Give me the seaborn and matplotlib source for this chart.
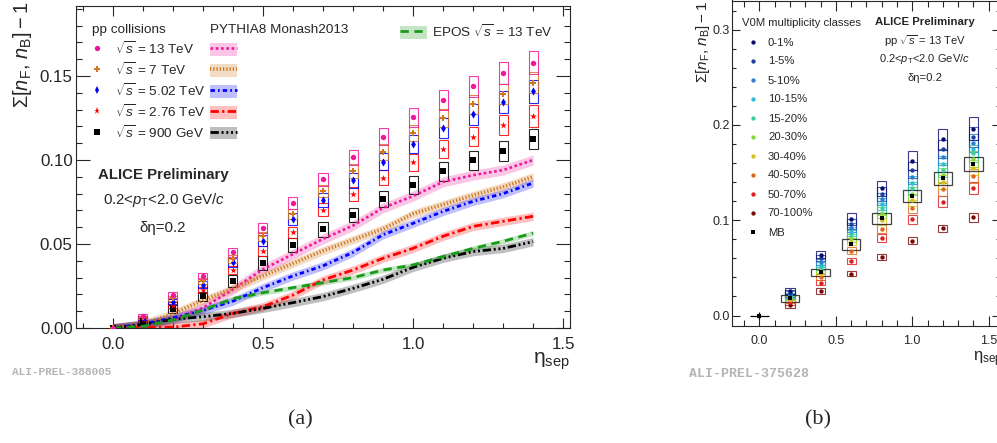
import numpy as np
import pandas as pd
import seaborn as sns
import matplotlib.pyplot as plt
from matplotlib.lines import Line2D
from matplotlib.patches import Patch
from matplotlib.ticker import MultipleLocator, FormatStrFormatter

# ---------- panel (a): pp collisions at several energies ----------
ETA_A = [0.0, 0.1, 0.2, 0.3, 0.4, 0.5, 0.6, 0.7, 0.8, 0.9, 1.0, 1.1, 1.2, 1.3, 1.4]
ENERGY_LABELS = ["13 TeV", "7 TeV", "5.02 TeV", "2.76 TeV", "900 GeV"]

DATA_13 = [0, 0.0071, 0.0196, 0.031, 0.045, 0.0595, 0.0745, 0.0885, 0.1016, 0.114, 0.1254, 0.1357, 0.144, 0.1516, 0.158]
DATA_7 = [0, 0.0063, 0.0177, 0.0278, 0.041, 0.0546, 0.068, 0.0813, 0.0933, 0.1048, 0.116, 0.125, 0.1331, 0.1395, 0.146]
DATA_5 = [0, 0.0058, 0.0157, 0.0258, 0.039, 0.052, 0.065, 0.0762, 0.0879, 0.099, 0.1095, 0.119, 0.1272, 0.1345, 0.1409]
DATA_276 = [0, 0.0052, 0.0137, 0.0226, 0.0343, 0.046, 0.057, 0.0705, 0.080, 0.0895, 0.0986, 0.1066, 0.114, 0.121, 0.1262]
DATA_09 = [0, 0.0044, 0.0113, 0.019, 0.028, 0.0385, 0.0494, 0.0587, 0.0673, 0.0766, 0.0851, 0.0933, 0.0998, 0.1055, 0.1123]

SYS_13 = [0, 0.0012, 0.0016, 0.002, 0.0025, 0.003, 0.0035, 0.004, 0.0045, 0.005, 0.0055, 0.0058, 0.0062, 0.0065, 0.0068]
SYS_7 = [0, 0.0011, 0.0015, 0.0019, 0.0023, 0.0027, 0.0031, 0.0036, 0.0041, 0.0045, 0.0049, 0.0053, 0.0057, 0.006, 0.0062]
SYS_5 = [0, 0.0012, 0.0016, 0.0021, 0.0026, 0.0031, 0.0036, 0.0041, 0.0046, 0.0051, 0.0056, 0.006, 0.0064, 0.0067, 0.007]
SYS_276 = [0, 0.0011, 0.0015, 0.0019, 0.0024, 0.0029, 0.0033, 0.0037, 0.0041, 0.0045, 0.0049, 0.0053, 0.0057, 0.006, 0.0063]
SYS_09 = [0, 0.0014, 0.0022, 0.0027, 0.0035, 0.0042, 0.0042, 0.0044, 0.0042, 0.0048, 0.0052, 0.0055, 0.0058, 0.006, 0.006]

PY_13 = [0, 0.001, 0.005, 0.012, 0.023, 0.035, 0.044, 0.053, 0.061, 0.0715, 0.0785, 0.087, 0.091, 0.094, 0.100]
PY_7 = [0, 0.0025, 0.0085, 0.0165, 0.0235, 0.031, 0.0385, 0.046, 0.0525, 0.059, 0.068, 0.0735, 0.079, 0.084, 0.090]
PY_5 = [0, 0.0024, 0.006, 0.0105, 0.016, 0.024, 0.031, 0.037, 0.045, 0.0555, 0.0623, 0.0694, 0.0754, 0.080, 0.0863]
PY_276 = [0, 0.0002, 0.0005, 0.0025, 0.0087, 0.0127, 0.0196, 0.0286, 0.0345, 0.0415, 0.0474, 0.0546, 0.0605, 0.0635, 0.0665]
PY_09 = [0, 0.002, 0.0052, 0.0067, 0.0087, 0.0117, 0.0151, 0.0187, 0.0236, 0.029, 0.0361, 0.0415, 0.0455, 0.0474, 0.0514]
PY_BAND = [0.003, 0.0025, 0.0025, 0.0025, 0.0025]
EPOS_13 = [0, 0.001, 0.0048, 0.0107, 0.0175, 0.021, 0.024, 0.027, 0.030, 0.0345, 0.0375, 0.0425, 0.0474, 0.0516, 0.0565]
EPOS_BAND = 0.0015

COLORS_A = ["#f0189a", "#d2771e", "#0000ff", "#ff0000", "#000000"]
MARKERS_A = ["o", "P", "d", "*", "s"]
MSIZE_A = [15, 19, 17, 26, 15]
STYLES_A = [(0, (1, 1)), (0, (0.35, 0.55)), (0, (1.6, 1.1, 0.6, 1.1)),
            (0, (3, 1.2, 0.8, 1.2)), (0, (3, 1, 0.7, 1, 0.7, 1, 0.7, 1))]
LW_A = [1.9, 2.6, 2.0, 2.0, 2.0]

# ---------- panel (b): 13 TeV multiplicity classes ----------
ETA_B = [0.2, 0.4, 0.6, 0.8, 1.0, 1.2, 1.4]
CLASSES = ["0-1%", "1-5%", "5-10%", "10-15%", "15-20%", "20-30%", "30-40%", "40-50%", "50-70%", "70-100%"]
CLASS_VALUES = [
    [0.026, 0.064, 0.101, 0.1335, 0.1625, 0.185, 0.196],
    [0.024, 0.060, 0.096, 0.1275, 0.153, 0.1745, 0.187],
    [0.0225, 0.056, 0.092, 0.122, 0.1455, 0.166, 0.181],
    [0.021, 0.0535, 0.088, 0.117, 0.139, 0.159, 0.175],
    [0.020, 0.0505, 0.085, 0.1125, 0.1335, 0.1525, 0.170],
    [0.019, 0.048, 0.081, 0.108, 0.128, 0.147, 0.164],
    [0.0175, 0.0445, 0.0775, 0.100, 0.121, 0.140, 0.155],
    [0.0165, 0.0405, 0.068, 0.091, 0.113, 0.1325, 0.146],
    [0.014, 0.0345, 0.057, 0.0815, 0.101, 0.1195, 0.1335],
    [0.011, 0.0257, 0.044, 0.0617, 0.0785, 0.0915, 0.103],
]
CLASS_REL_SYS = [0.06, 0.055, 0.05, 0.05, 0.05, 0.05, 0.05, 0.05, 0.048, 0.043]
CLASS_COLORS = ["#0b0b6e", "#1f3f9f", "#2a7fcf", "#2bbcd6", "#3ccf9a",
                "#84d63c", "#d4c21a", "#e0681a", "#dd1c1c", "#7a0a0a"]
ETA_MB = [0.0, 0.2, 0.4, 0.6, 0.8, 1.0, 1.2, 1.4]
MB_VALUES = [0.0, 0.018, 0.0453, 0.0747, 0.102, 0.1254, 0.144, 0.1587]
MB_SYS = [0.0, 0.0035, 0.004, 0.0055, 0.006, 0.0065, 0.007, 0.0075]

# ---------- style ----------
sns.set_style("ticks")
plt.rcParams["font.family"] = ["Liberation Sans", "DejaVu Sans"]
plt.rcParams["mathtext.fontset"] = "custom"
plt.rcParams["mathtext.rm"] = "Liberation Sans"
plt.rcParams["mathtext.it"] = "Liberation Sans:italic"
plt.rcParams["mathtext.bf"] = "Liberation Sans:bold"
plt.rcParams["axes.linewidth"] = 0.8

W, H = 997, 443
fig = plt.figure(figsize=(W / 100, H / 100), dpi=100)


def box(l, t, r, b):
    return [l / W, 1 - b / H, (r - l) / W, (b - t) / H]


def fpos(x, y):
    return (x / W, 1 - y / H)


def ftext(x, y, s, **kw):
    fig.text(x / W, 1 - y / H, s, **kw)


ax_a = fig.add_axes(box(76, 6, 570, 328))
ax_b = fig.add_axes(box(732.3, 0.5, 1000, 325.7))

# ---------- panel (a) drawing ----------
eta_a = np.array(ETA_A)
datas = [DATA_13, DATA_7, DATA_5, DATA_276, DATA_09]
syss = [SYS_13, SYS_7, SYS_5, SYS_276, SYS_09]
pys = [PY_13, PY_7, PY_5, PY_276, PY_09]

# models: bands + lines
for py, band, c in zip(pys, PY_BAND, COLORS_A):
    py = np.array(py)
    ax_a.fill_between(eta_a, py - band, py + band, color=c, alpha=0.25, lw=0)
epos = np.array(EPOS_13)
ax_a.fill_between(eta_a, epos - EPOS_BAND, epos + EPOS_BAND, color="#1a9a1a", alpha=0.25, lw=0)
for py, c, ls, lw in zip(pys, COLORS_A, STYLES_A, LW_A):
    sns.lineplot(x=ETA_A, y=py, ax=ax_a, color=c, linewidth=lw, linestyle=ls)
sns.lineplot(x=ETA_A, y=EPOS_13, ax=ax_a, color="#1a9a1a", linewidth=2.0, linestyle=(0, (3, 2)))

# data: systematic boxes + markers
for d, s, c in zip(datas[::-1], syss[::-1], COLORS_A[::-1]):
    d, s = np.array(d), np.array(s)
    m = s > 0
    ax_a.bar(eta_a[m], 2 * s[m], width=0.03, bottom=d[m] - s[m], fill=False,
             edgecolor=c, linewidth=0.8, alpha=0.85)
for d, c, mk, ms in zip(datas[::-1], COLORS_A[::-1], MARKERS_A[::-1], MSIZE_A[::-1]):
    sns.scatterplot(x=ETA_A, y=d, ax=ax_a, color=c, marker=mk, s=ms, linewidth=0, zorder=5)

ax_a.set_xlim(-0.123, 1.523)
ax_a.set_ylim(0.0, 0.1917)
ax_a.xaxis.set_major_locator(MultipleLocator(0.5))
ax_a.xaxis.set_minor_locator(MultipleLocator(0.1))
ax_a.yaxis.set_major_locator(MultipleLocator(0.05))
ax_a.yaxis.set_minor_locator(MultipleLocator(0.01))
ax_a.xaxis.set_major_formatter(FormatStrFormatter("%.1f"))
ax_a.yaxis.set_major_formatter(FormatStrFormatter("%.2f"))
ax_a.tick_params(which="both", direction="in", top=True, right=True, width=0.8, labelsize=12.2)
ax_a.tick_params(axis="x", which="major", length=7.2, pad=6.5)
ax_a.tick_params(axis="x", which="minor", length=3.6)
ax_a.tick_params(axis="y", which="major", length=10, pad=2.4)
ax_a.tick_params(axis="y", which="minor", length=4.3)
ax_a.set_xlabel("")
ax_a.set_ylabel("")

sqrt_labels = [r"$\sqrt{s}$ = " + e for e in ENERGY_LABELS]
h1 = [Line2D([], [], marker=mk, color=c, linestyle="none", markersize=np.sqrt(ms),
             markeredgewidth=0) for c, mk, ms in zip(COLORS_A, MARKERS_A, MSIZE_A)]
leg1 = ax_a.legend(h1, sqrt_labels, title="pp collisions", loc="upper left",
                   bbox_to_anchor=fpos(92, 24), bbox_transform=fig.transFigure,
                   frameon=False, fontsize=9.7, title_fontsize=9.7, handlelength=0.8,
                   handleheight=1.1, handletextpad=0.9, labelspacing=0.3,
                   borderpad=0, borderaxespad=0, alignment="left")
ax_a.add_artist(leg1)
h2 = [(Patch(facecolor=c, alpha=0.25, lw=0), Line2D([], [], color=c, linestyle=ls, lw=lw))
      for c, ls, lw in zip(COLORS_A, STYLES_A, LW_A)]
leg2 = ax_a.legend(h2, sqrt_labels, title="PYTHIA8 Monash2013", loc="upper left",
                   bbox_to_anchor=fpos(210, 24), bbox_transform=fig.transFigure,
                   frameon=False, fontsize=9.7, title_fontsize=9.7, handlelength=2.0,
                   handleheight=1.1, handletextpad=0.0, labelspacing=0.3,
                   borderpad=0, borderaxespad=0, alignment="left", labelcolor="none")
ax_a.add_artist(leg2)
h3 = [(Patch(facecolor="#1a9a1a", alpha=0.25, lw=0),
       Line2D([], [], color="#1a9a1a", linestyle=(0, (3, 2)), lw=2.0))]
ax_a.legend(h3, [r"EPOS $\sqrt{s}$ = 13 TeV"], loc="upper left",
            bbox_to_anchor=fpos(400, 23), bbox_transform=fig.transFigure,
            frameon=False, fontsize=9.7, handlelength=2.0, handleheight=1.1,
            handletextpad=0.35, borderpad=0, borderaxespad=0)

ftext(98, 175, "ALICE Preliminary", weight="bold", size=10.8, va="center", ha="left")
ftext(103, 200, r"0.2<$p_{\mathrm{T}}$<2.0 GeV/$c$", size=10.8, va="center", ha="left")
ftext(163, 228, "δη=0.2", size=10.8, va="center", ha="center")
ftext(22, 1, r"$\Sigma[n_{\mathrm{F}},\, n_{\mathrm{B}}] - 1$", rotation=90, size=14.4,
      ha="center", va="top")
ftext(570, 351, r"$\mathrm{η}_{\mathrm{sep}}$", size=15, ha="right", va="top")
ftext(12, 372, "ALI-PREL-388005", family="Liberation Mono", weight="bold", size=8,
      color="#b4b4b4", va="center", ha="left")
ftext(300, 420, "(a)", family="Liberation Serif", size=16, va="center", ha="center")

# ---------- panel (b) drawing ----------
eta_b = np.array(ETA_B)
for vals, rel, c in zip(CLASS_VALUES[::-1], CLASS_REL_SYS[::-1], CLASS_COLORS[::-1]):
    v = np.array(vals)
    s = np.maximum(rel * v, 0.003)
    ax_b.bar(eta_b, 2 * s, width=0.06, bottom=v - s, fill=False, edgecolor=c,
             linewidth=0.8, alpha=0.8)
mb, mbs, eta_mb = np.array(MB_VALUES), np.array(MB_SYS), np.array(ETA_MB)
m = mbs > 0
ax_b.bar(eta_mb[m], 2 * mbs[m], width=0.12, bottom=mb[m] - mbs[m], fill=False,
         edgecolor="#222222", linewidth=0.9, alpha=0.85)
for vals, c in zip(CLASS_VALUES[::-1], CLASS_COLORS[::-1]):
    sns.scatterplot(x=ETA_B, y=vals, ax=ax_b, color=c, marker="o", s=10, linewidth=0, zorder=5)
ax_b.errorbar(ETA_MB[:1], MB_VALUES[:1], xerr=0.06, yerr=0.0035, fmt="none",
              ecolor="black", elinewidth=0.9, zorder=5)
sns.scatterplot(x=ETA_MB, y=MB_VALUES, ax=ax_b, color="black", marker="s", s=11,
                linewidth=0, zorder=6)

ax_b.set_xlim(-0.177, 1.574)
ax_b.set_ylim(-0.0107, 0.3305)
ax_b.xaxis.set_major_locator(MultipleLocator(0.5))
ax_b.xaxis.set_minor_locator(MultipleLocator(0.1))
ax_b.yaxis.set_major_locator(MultipleLocator(0.1))
ax_b.yaxis.set_minor_locator(MultipleLocator(0.02))
ax_b.xaxis.set_major_formatter(FormatStrFormatter("%.1f"))
ax_b.yaxis.set_major_formatter(FormatStrFormatter("%.1f"))
ax_b.tick_params(which="both", direction="in", top=True, right=True, width=0.8, labelsize=9)
ax_b.tick_params(axis="x", which="major", length=7.2, pad=7)
ax_b.tick_params(axis="x", which="minor", length=4.1)
ax_b.tick_params(axis="y", which="major", length=5.5, pad=1.7)
ax_b.tick_params(axis="y", which="minor", length=3.1)
ax_b.set_xlabel("")
ax_b.set_ylabel("")

hb = [Line2D([], [], marker="o", color=c, linestyle="none", markersize=3.1, markeredgewidth=0)
      for c in CLASS_COLORS]
hb.append(Line2D([], [], marker="s", color="black", linestyle="none", markersize=3.3,
                 markeredgewidth=0))
ax_b.legend(hb, CLASSES + ["MB"], title="V0M multiplicity classes", loc="upper left",
            bbox_to_anchor=fpos(742, 18.5), bbox_transform=fig.transFigure,
            frameon=False, fontsize=8.1, title_fontsize=8.1, handlelength=1.9,
            handletextpad=0.4, labelspacing=0.8, borderpad=0, borderaxespad=0,
            alignment="left")

ftext(925, 22, "ALICE Preliminary", weight="bold", size=8.2, va="center", ha="center")
ftext(925, 41, r"pp $\sqrt{s}$ = 13 TeV", size=8.1, va="center", ha="center")
ftext(925, 59, r"0.2<$p_{\mathrm{T}}$<2.0 GeV/$c$", size=8.0, va="center", ha="center")
ftext(925, 78, "δη=0.2", size=8.1, va="center", ha="center")
ftext(703, 1, r"$\Sigma[n_{\mathrm{F}},\, n_{\mathrm{B}}] - 1$", rotation=90, size=11,
      ha="center", va="top")
ftext(973, 349, r"$\mathrm{η}_{\mathrm{sep}}$", size=12, ha="left", va="top")
ftext(689, 374, "ALI-PREL-375628", family="Liberation Mono", weight="bold", size=9.5,
      color="#b4b4b4", va="center", ha="left")
ftext(818, 420, "(b)", family="Liberation Serif", size=16, va="center", ha="center")

fig.savefig("out.png", dpi=100)
